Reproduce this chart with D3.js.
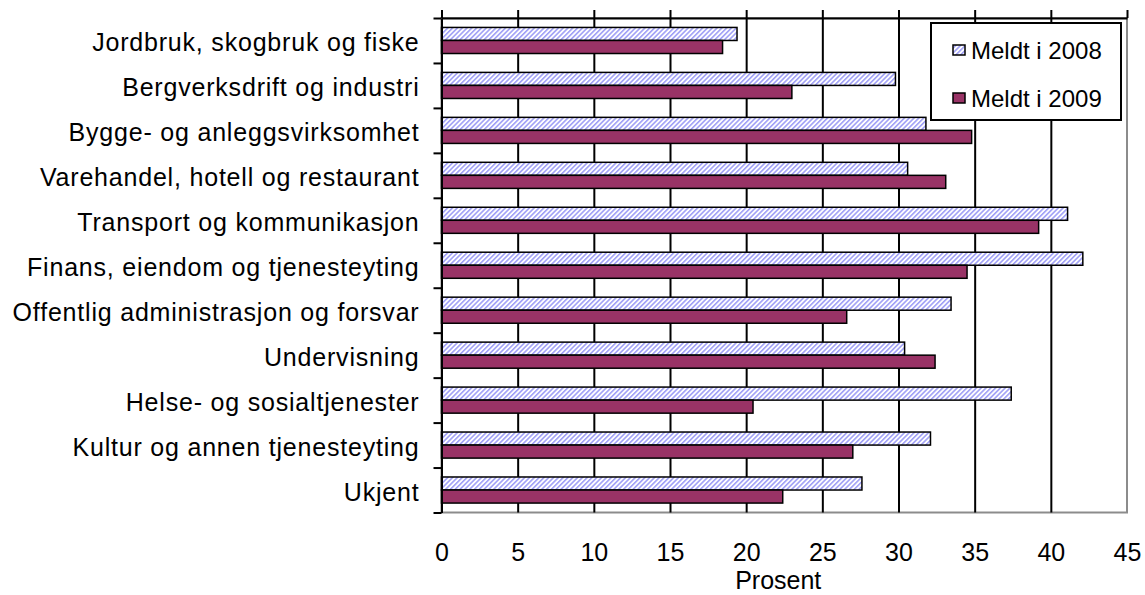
<!DOCTYPE html>
<html>
<head>
<meta charset="utf-8">
<script src="https://cdn.jsdelivr.net/npm/d3@7"></script>
<style>
  body { margin: 0; background: white; }
  text { font-family: "Liberation Sans", Arial, sans-serif; fill: #000; }
</style>
</head>
<body>
<div id="plot"></div>
<script>
// Categories (top to bottom) and the two series, in percent
const categories = [
  "Jordbruk, skogbruk og fiske",
  "Bergverksdrift og industri",
  "Bygge- og anleggsvirksomhet",
  "Varehandel, hotell og restaurant",
  "Transport og kommunikasjon",
  "Finans, eiendom og tjenesteyting",
  "Offentlig administrasjon og forsvar",
  "Undervisning",
  "Helse- og sosialtjenester",
  "Kultur og annen tjenesteyting",
  "Ukjent"
];
const seriesNames = ["Meldt i 2008", "Meldt i 2009"];
const meldt2008 = [19.4, 29.8, 31.8, 30.6, 41.1, 42.1, 33.45, 30.4, 37.4, 32.1, 27.6];
const meldt2009 = [18.45, 23.0, 34.8, 33.1, 39.2, 34.5, 26.6, 32.4, 20.45, 27.0, 22.4];
const xTicks = [0, 5, 10, 15, 20, 25, 30, 35, 40, 45];
const xTitle = "Prosent";

const width = 1145;
const height = 595;
const margin = { top: 18, right: 18, bottom: 82.5, left: 441.5 };

const svg = d3.select("#plot").append("svg")
  .attr("width", width)
  .attr("height", height)
  .style("background-color", "white");

// hatch pattern for the 2008 bars
const defs = svg.append("defs");
const pat = defs.append("pattern")
  .attr("id", "hatch")
  .attr("patternUnits", "userSpaceOnUse")
  .attr("width", 3.4)
  .attr("height", 3.4)
  .attr("patternTransform", "rotate(45)");
pat.append("rect").attr("width", 3.4).attr("height", 3.4).attr("fill", "#ffffff");
pat.append("line")
  .attr("x1", 0.8).attr("y1", 0).attr("x2", 0.8).attr("y2", 3.4)
  .attr("stroke", "#8080f4").attr("stroke-width", 1.2);

const x = d3.scaleLinear()
  .domain([0, 45])
  .range([margin.left, width - margin.right]);

const y = d3.scaleBand()
  .domain(categories)
  .range([margin.top, height - margin.bottom])
  .paddingInner(0.42)
  .paddingOuter(0.21);

const ySeries = d3.scaleBand()
  .domain(seriesNames)
  .range([0, y.bandwidth()]);

// category boundaries for the tick marks on the left axis
const yEdge = d3.scaleLinear()
  .domain([0, categories.length])
  .range([margin.top, height - margin.bottom]);

const plotTop = margin.top, plotBottom = height - margin.bottom;

// plot area border (grey)
svg.append("rect")
  .attr("x", x(0))
  .attr("y", plotTop)
  .attr("width", x(45) - x(0))
  .attr("height", plotBottom - plotTop)
  .attr("fill", "none")
  .attr("stroke", "#8c8c8c")
  .attr("stroke-width", 2);

// vertical gridlines
svg.append("g")
  .attr("transform", `translate(0,${plotBottom})`)
  .call(d3.axisBottom(x).tickValues(xTicks.slice(1, -1)).tickSize(-(plotBottom - plotTop)).tickFormat(""))
  .call(g => g.select(".domain").remove())
  .call(g => g.selectAll("line").attr("stroke", "#000").attr("stroke-width", 2));

// top axis line with upward ticks
svg.append("g")
  .attr("transform", `translate(0,${plotTop})`)
  .call(d3.axisTop(x).tickValues(xTicks).tickSize(8).tickSizeOuter(0).tickFormat(""))
  .call(g => g.select(".domain").attr("stroke", "#000").attr("stroke-width", 2))
  .call(g => g.selectAll("line").attr("stroke", "#000").attr("stroke-width", 2));

// tick labels below the plot
svg.append("g")
  .attr("transform", `translate(0,${plotBottom})`)
  .call(d3.axisBottom(x).tickValues(xTicks).tickSize(0).tickPadding(31))
  .call(g => g.select(".domain").remove())
  .call(g => g.selectAll("text").attr("font-size", 25).style("font-family", "'Liberation Sans', Arial, sans-serif"));

svg.append("text")
  .attr("x", (x(0) + x(45)) / 2 - 6)
  .attr("y", 589)
  .attr("text-anchor", "middle")
  .attr("font-size", 25)
  .text(xTitle);

// bars
const groups = svg.append("g").selectAll("g")
  .data(categories)
  .join("g")
  .attr("transform", d => `translate(0,${y(d)})`);

groups.append("rect")
  .attr("x", x(0))
  .attr("y", ySeries(seriesNames[0]))
  .attr("width", (d, i) => x(meldt2008[i]) - x(0))
  .attr("height", ySeries.bandwidth())
  .attr("fill", "url(#hatch)")
  .attr("stroke", "#000")
  .attr("stroke-width", 1.5);

groups.append("rect")
  .attr("x", x(0))
  .attr("y", ySeries(seriesNames[1]))
  .attr("width", (d, i) => x(meldt2009[i]) - x(0))
  .attr("height", ySeries.bandwidth())
  .attr("fill", "#993366")
  .attr("stroke", "#000")
  .attr("stroke-width", 1.5);

// left axis line with ticks at category boundaries
svg.append("g")
  .attr("transform", `translate(${x(0)},0)`)
  .call(d3.axisLeft(yEdge).ticks(categories.length).tickSize(8).tickSizeOuter(0).tickFormat(""))
  .call(g => g.select(".domain").attr("stroke", "#000").attr("stroke-width", 2))
  .call(g => g.selectAll("line").attr("stroke", "#000").attr("stroke-width", 2));

// category labels
svg.append("g")
  .attr("transform", `translate(${x(0)},0)`)
  .call(d3.axisLeft(y).tickSize(0).tickPadding(22))
  .call(g => g.select(".domain").remove())
  .call(g => g.selectAll("text")
    .attr("font-size", 25)
    .attr("dy", "0.42em")
    .style("letter-spacing", "0.8px")
    .style("font-family", "'Liberation Sans', Arial, sans-serif"));

// legend
const legend = svg.append("g").attr("transform", "translate(931,23)");
legend.append("rect")
  .attr("width", 190)
  .attr("height", 97)
  .attr("fill", "white")
  .attr("stroke", "#000")
  .attr("stroke-width", 2);

const legendFills = ["url(#hatch)", "#993366"];
seriesNames.forEach((name, i) => {
  const row = legend.append("g").attr("transform", `translate(0,${22 + i * 48})`);
  row.append("rect")
    .attr("x", 22)
    .attr("y", 0)
    .attr("width", 12)
    .attr("height", 10)
    .attr("fill", legendFills[i])
    .attr("stroke", "#000")
    .attr("stroke-width", 1.5);
  row.append("text")
    .attr("x", 40)
    .attr("y", 14)
    .attr("font-size", 24)
    .text(name);
});
</script>
</body>
</html>
